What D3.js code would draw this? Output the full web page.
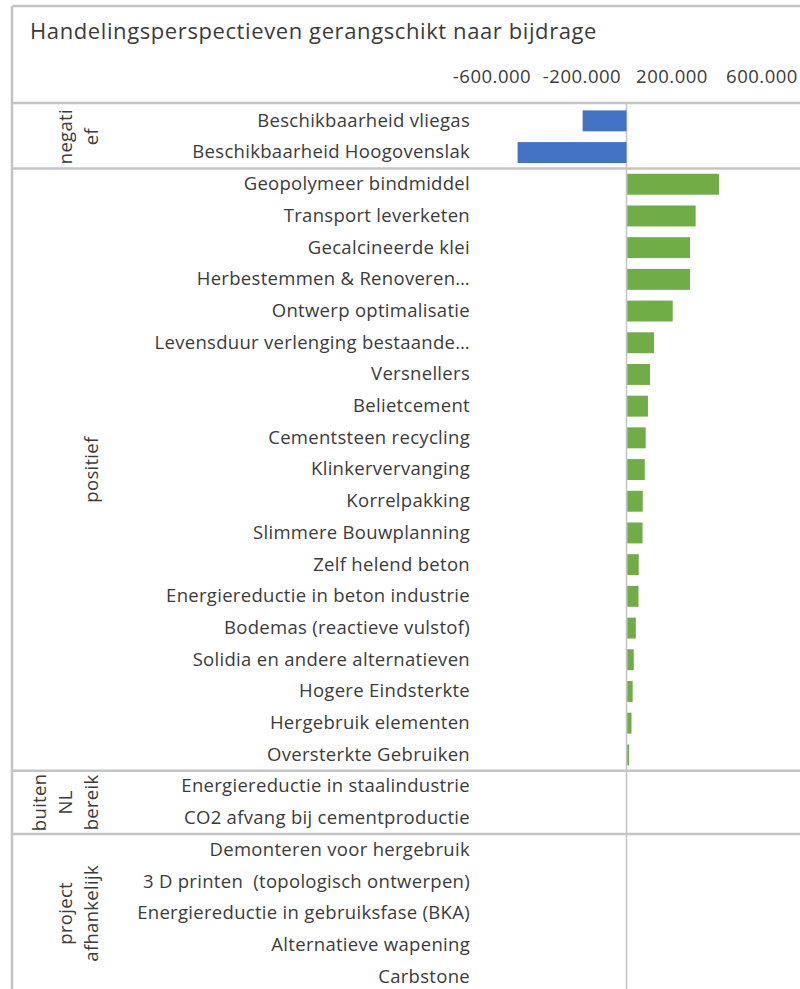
<!DOCTYPE html>
<html>
<head>
<meta charset="utf-8">
<script src="https://cdn.jsdelivr.net/npm/d3@7"></script>
<style>
  html, body { margin: 0; padding: 0; background: #fff; }
  svg { display: block; font-family: "Open Sans", sans-serif; }
  svg text { white-space: pre; }
</style>
</head>
<body>
<svg id="chart" width="800" height="989"></svg>
<script>
// Actions ranked by contribution, grouped by category
const groupNames = ["negatief", "positief", "buiten NL bereik", "project afhankelijk"];
const groupLines = [["negati", "ef"], ["positief"], ["buiten", "NL", "bereik"], ["project", "afhankelijk"]];
const groupSizes = [2, 19, 2, 5];

const categories = [
  "Beschikbaarheid vliegas",
  "Beschikbaarheid Hoogovenslak",
  "Geopolymeer bindmiddel",
  "Transport leverketen",
  "Gecalcineerde klei",
  "Herbestemmen & Renoveren…",
  "Ontwerp optimalisatie",
  "Levensduur verlenging bestaande…",
  "Versnellers",
  "Belietcement",
  "Cementsteen recycling",
  "Klinkervervanging",
  "Korrelpakking",
  "Slimmere Bouwplanning",
  "Zelf helend beton",
  "Energiereductie in beton industrie",
  "Bodemas (reactieve vulstof)",
  "Solidia en andere alternatieven",
  "Hogere Eindsterkte",
  "Hergebruik elementen",
  "Oversterkte Gebruiken",
  "Energiereductie in staalindustrie",
  "CO2 afvang bij cementproductie",
  "Demonteren voor hergebruik",
  "3 D printen  (topologisch ontwerpen)",
  "Energiereductie in gebruiksfase (BKA)",
  "Alternatieve wapening",
  "Carbstone"
];

const values = [
  -195000, -484000,
  408000, 304000, 279000, 279000, 202000, 119000, 101000, 92000, 82000, 78000,
  69000, 68000, 51000, 50000, 38000, 29000, 24000, 19000, 8000,
  null, null,
  null, null, null, null, null
];

const xTicks = [-600000, -200000, 200000, 600000];

const title = "Handelingsperspectieven gerangschikt naar bijdrage";

// Dutch number formatting: 600.000
const nl = d3.formatLocale({ decimal: ",", thousands: ".", grouping: [3], currency: ["€ ", ""], minus: "-" });
const fmt = nl.format(",.0f");

const svg = d3.select("#chart");
const W = 800, H = 989;
const frameLeft = 12, frameTop = 6, headerBottom = 103;
const textColor = "#3b3b3b";
const lineColor = "#c4c4c4";

const x = d3.scaleLinear().domain([-600000, 600000]).range([491.5, 761.5]);
const y = d3.scaleBand().domain(categories).range([105, 105 + 28 * 31.7]).paddingInner(0.34).paddingOuter(0.17);

const rows = categories.map((c, i) => ({ c, v: values[i] }));

// Title
svg.append("text")
  .attr("x", 30).attr("y", 39)
  .attr("fill", textColor)
  .attr("font-size", 22)
  .attr("letter-spacing", 0.6)
  .text(title);

// Value axis along the top
const xAxis = svg.append("g")
  .attr("transform", `translate(0,86)`)
  .call(d3.axisTop(x).tickValues(xTicks).tickSize(0).tickPadding(3).tickFormat(fmt));
xAxis.select(".domain").remove();
xAxis.selectAll("text")
  .attr("fill", textColor).attr("font-size", 18.5).attr("letter-spacing", 0.5)
  .attr("font-family", "Open Sans");

// Zero line
svg.append("line")
  .attr("x1", x(0)).attr("x2", x(0))
  .attr("y1", headerBottom).attr("y2", H)
  .attr("stroke", lineColor).attr("stroke-width", 1.5);

// Bars
svg.append("g").selectAll("rect")
  .data(rows.filter(d => d.v !== null))
  .join("rect")
  .attr("x", d => Math.min(x(0), x(d.v)) + (d.v < 0 ? 0 : 0.75))
  .attr("y", d => y(d.c))
  .attr("width", d => Math.abs(x(d.v) - x(0)))
  .attr("height", y.bandwidth())
  .attr("fill", d => d.v < 0 ? "#4472C4" : "#70AD47");

// Category labels
const yAxis = svg.append("g")
  .attr("transform", `translate(473,0)`)
  .call(d3.axisLeft(y).tickSize(0).tickPadding(3));
yAxis.select(".domain").remove();
yAxis.selectAll("text")
  .attr("fill", textColor).attr("font-size", 18.5).attr("letter-spacing", 0.3)
  .attr("font-family", "Open Sans");

// Group separators and group labels
let start = 0;
const bandStep = y.step();
const y0 = y.range()[0];
groupSizes.forEach((n, gi) => {
  const top = y0 + start * bandStep;
  const bottom = top + n * bandStep;
  if (gi < groupSizes.length - 1) {
    svg.append("line")
      .attr("x1", frameLeft).attr("x2", W)
      .attr("y1", bottom).attr("y2", bottom)
      .attr("stroke", lineColor).attr("stroke-width", 2.5);
  }
  const lines = groupLines[gi];
  const cy = (top + bottom) / 2;
  lines.forEach((t, li) => {
    const cx = 90 - (lines.length - 1 - li) * 26;
    svg.append("text")
      .attr("transform", `translate(${cx},${cy}) rotate(-90)`)
      .attr("text-anchor", "middle")
      .attr("dominant-baseline", "central")
      .attr("fill", textColor)
      .attr("font-size", 18.5)
      .attr("letter-spacing", 0.3)
      .text(t);
  });
  start += n;
});

// Outer frame and header divider
svg.append("line").attr("x1", frameLeft).attr("x2", W).attr("y1", frameTop).attr("y2", frameTop)
  .attr("stroke", lineColor).attr("stroke-width", 2.5);
svg.append("line").attr("x1", frameLeft).attr("x2", frameLeft).attr("y1", frameTop).attr("y2", H)
  .attr("stroke", lineColor).attr("stroke-width", 2.5);
svg.append("line").attr("x1", frameLeft).attr("x2", W).attr("y1", headerBottom).attr("y2", headerBottom)
  .attr("stroke", lineColor).attr("stroke-width", 2.5);
</script>
</body>
</html>
